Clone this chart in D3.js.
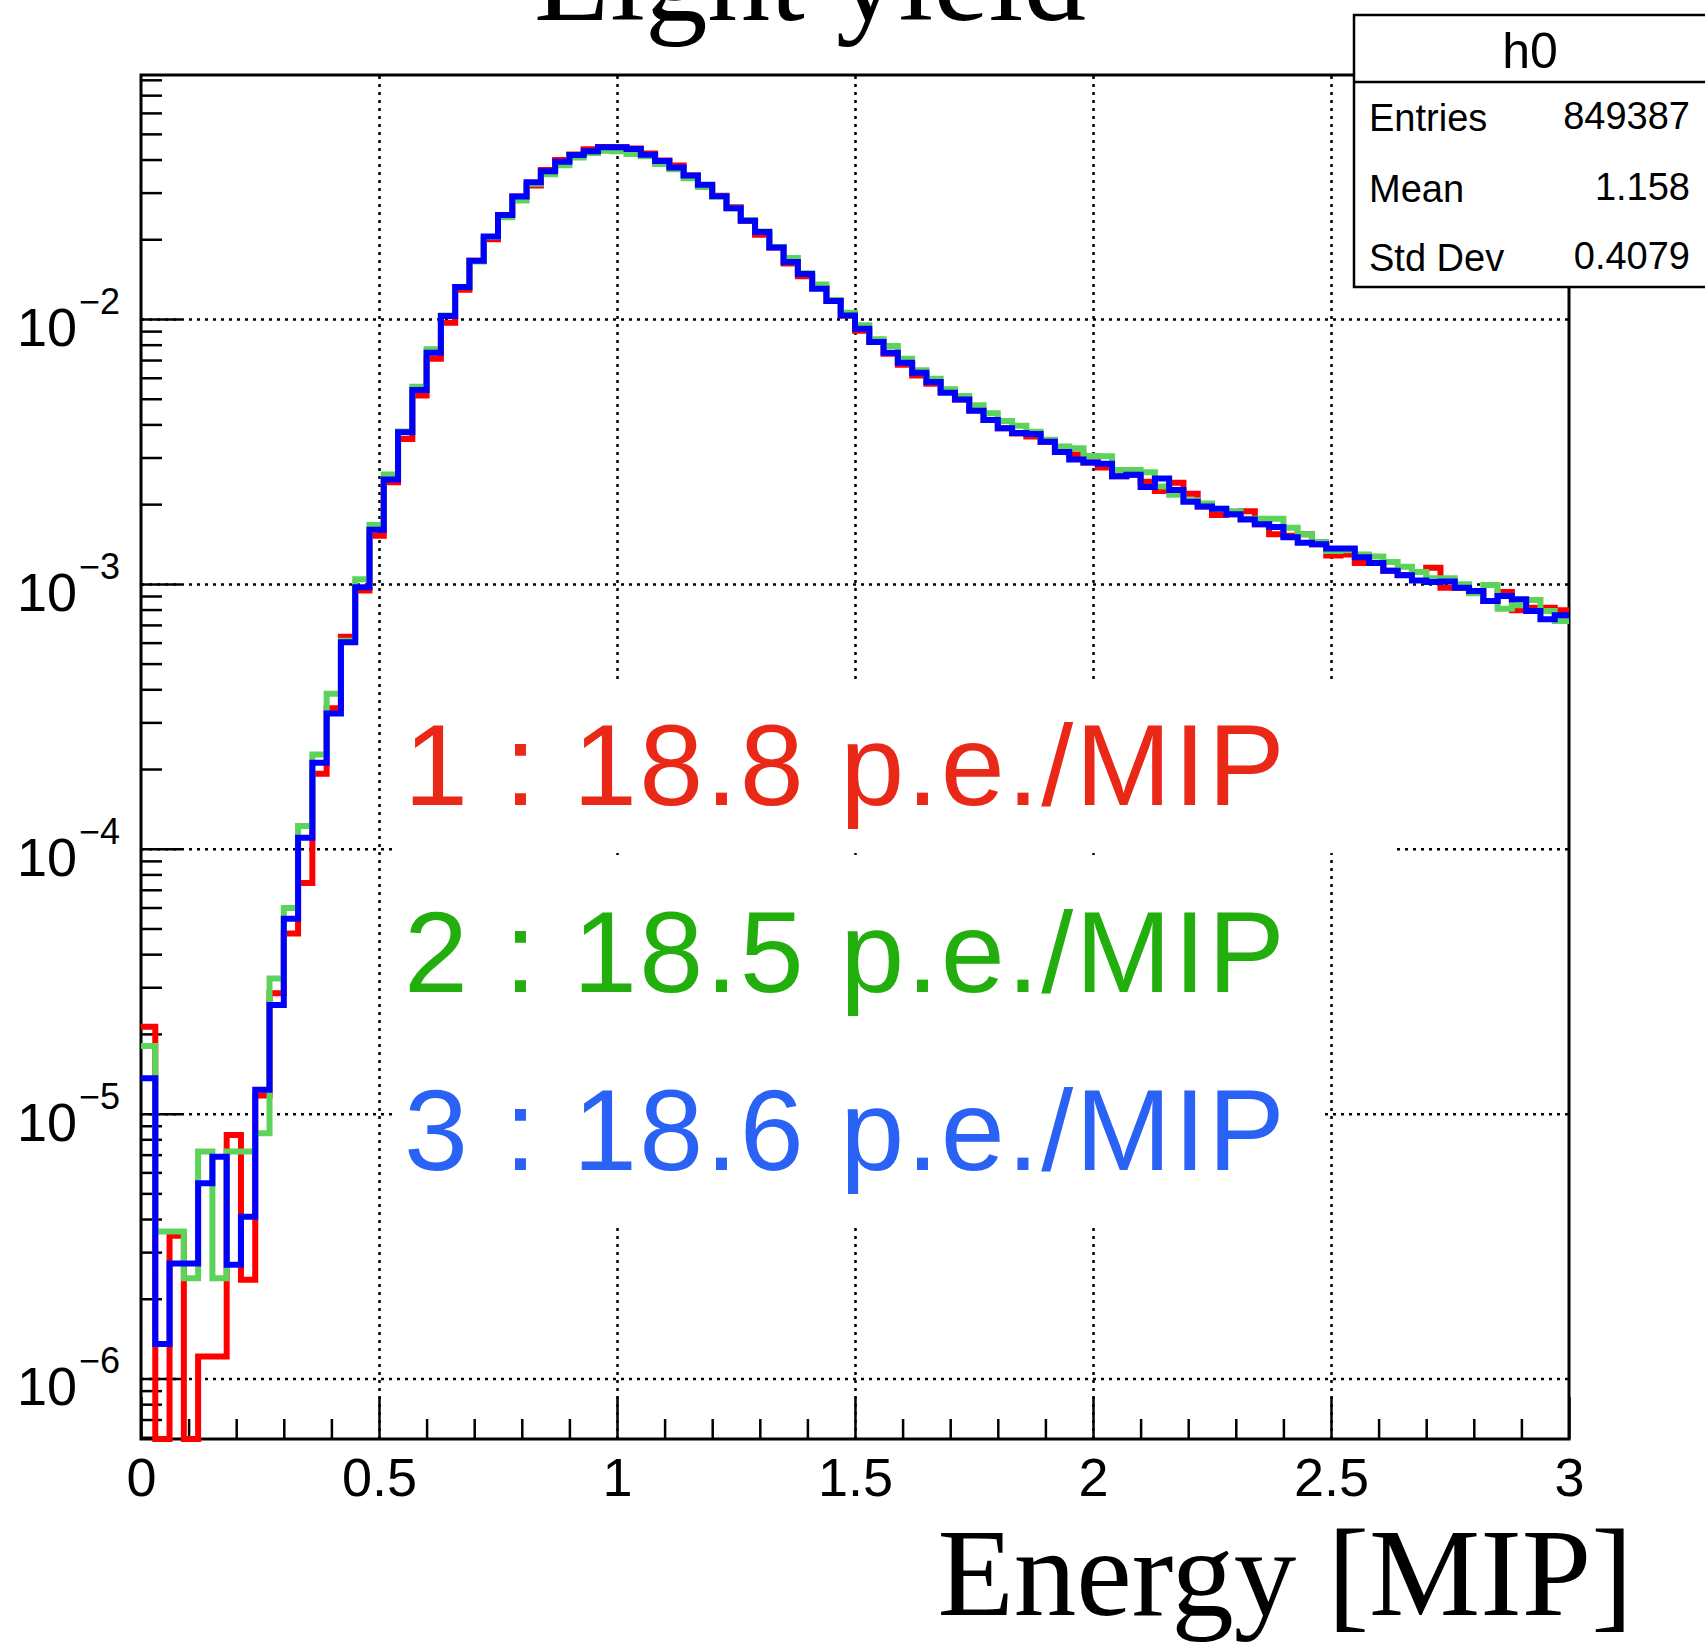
<!DOCTYPE html>
<html>
<head>
<meta charset="utf-8">
<script src="https://cdn.jsdelivr.net/npm/d3@7"></script>
<style>
  html, body { margin: 0; padding: 0; background: #fff; }
  svg { display: block; }
</style>
</head>
<body>
<div id="chart"></div>
<script>
// histogram binning: 100 bins on [0, 3]
const binRange = [0, 3];
const nBins = 100;

// bin contents (normalised counts), one value per bin
const series1 = [ // red
  2.13e-5, 0, 3.46e-6, 0, 1.21e-6, 1.21e-6, 8.31e-6, 2.36e-6, 1.17e-5, 2.85e-5,
  4.79e-5, 7.43e-5, 1.92e-4, 3.39e-4, 6.31e-4, 9.44e-4, 1.52e-3, 2.42e-3, 3.52e-3, 5.14e-3,
  7.08e-3, 9.68e-3, 1.29e-2, 1.66e-2, 2.00e-2, 2.47e-2, 2.90e-2, 3.19e-2, 3.65e-2, 3.98e-2,
  4.18e-2, 4.37e-2, 4.46e-2, 4.45e-2, 4.40e-2, 4.22e-2, 3.97e-2, 3.80e-2, 3.48e-2, 3.20e-2,
  2.92e-2, 2.64e-2, 2.35e-2, 2.08e-2, 1.86e-2, 1.62e-2, 1.45e-2, 1.31e-2, 1.17e-2, 1.03e-2,
  9.03e-3, 8.19e-3, 7.40e-3, 6.72e-3, 6.12e-3, 5.69e-3, 5.30e-3, 4.97e-3, 4.52e-3, 4.16e-3,
  3.87e-3, 3.70e-3, 3.60e-3, 3.44e-3, 3.15e-3, 3.08e-3, 2.87e-3, 2.75e-3, 2.55e-3, 2.58e-3,
  2.43e-3, 2.24e-3, 2.41e-3, 2.19e-3, 1.96e-3, 1.82e-3, 1.83e-3, 1.88e-3, 1.68e-3, 1.54e-3,
  1.52e-3, 1.54e-3, 1.41e-3, 1.28e-3, 1.29e-3, 1.20e-3, 1.20e-3, 1.12e-3, 1.08e-3, 1.11e-3,
  1.15e-3, 9.67e-4, 9.67e-4, 9.40e-4, 8.62e-4, 9.32e-4, 7.96e-4, 8.13e-4, 8.13e-4, 7.95e-4
];
const series2 = [ // green
  1.80e-5, 3.59e-6, 3.59e-6, 2.39e-6, 7.19e-6, 2.39e-6, 7.19e-6, 7.19e-6, 8.43e-6, 3.24e-5,
  5.97e-5, 1.22e-4, 2.27e-4, 3.85e-4, 6.10e-4, 1.04e-3, 1.67e-3, 2.59e-3, 3.76e-3, 5.55e-3,
  7.68e-3, 1.03e-2, 1.32e-2, 1.65e-2, 2.04e-2, 2.42e-2, 2.80e-2, 3.24e-2, 3.52e-2, 3.81e-2,
  4.07e-2, 4.23e-2, 4.32e-2, 4.30e-2, 4.20e-2, 4.12e-2, 3.85e-2, 3.68e-2, 3.40e-2, 3.15e-2,
  2.90e-2, 2.62e-2, 2.36e-2, 2.14e-2, 1.87e-2, 1.70e-2, 1.49e-2, 1.35e-2, 1.18e-2, 1.056e-2,
  9.47e-3, 8.38e-3, 7.91e-3, 7.08e-3, 6.40e-3, 5.95e-3, 5.43e-3, 5.12e-3, 4.72e-3, 4.41e-3,
  4.12e-3, 3.95e-3, 3.75e-3, 3.50e-3, 3.30e-3, 3.25e-3, 3.04e-3, 3.03e-3, 2.69e-3, 2.69e-3,
  2.64e-3, 2.33e-3, 2.17e-3, 2.07e-3, 2.01e-3, 1.92e-3, 1.88e-3, 1.76e-3, 1.76e-3, 1.76e-3,
  1.63e-3, 1.54e-3, 1.44e-3, 1.33e-3, 1.34e-3, 1.29e-3, 1.27e-3, 1.21e-3, 1.16e-3, 1.11e-3,
  1.05e-3, 1.05e-3, 9.97e-4, 9.22e-4, 9.91e-4, 8.06e-4, 8.30e-4, 8.69e-4, 7.90e-4, 7.24e-4
];
const series3 = [ // blue
  1.36e-5, 1.35e-6, 2.72e-6, 2.72e-6, 5.46e-6, 6.88e-6, 2.69e-6, 4.08e-6, 1.23e-5, 2.57e-5,
  5.44e-5, 1.10e-4, 2.11e-4, 3.24e-4, 6.02e-4, 9.72e-4, 1.60e-3, 2.48e-3, 3.74e-3, 5.40e-3,
  7.46e-3, 1.026e-2, 1.32e-2, 1.66e-2, 2.05e-2, 2.47e-2, 2.90e-2, 3.28e-2, 3.61e-2, 3.92e-2,
  4.16e-2, 4.30e-2, 4.45e-2, 4.45e-2, 4.38e-2, 4.17e-2, 3.95e-2, 3.73e-2, 3.48e-2, 3.21e-2,
  2.91e-2, 2.62e-2, 2.35e-2, 2.13e-2, 1.86e-2, 1.64e-2, 1.48e-2, 1.30e-2, 1.17e-2, 1.03e-2,
  9.19e-3, 8.19e-3, 7.46e-3, 6.84e-3, 6.27e-3, 5.78e-3, 5.27e-3, 4.97e-3, 4.50e-3, 4.16e-3,
  3.87e-3, 3.71e-3, 3.68e-3, 3.44e-3, 3.15e-3, 2.95e-3, 2.87e-3, 2.84e-3, 2.55e-3, 2.58e-3,
  2.32e-3, 2.50e-3, 2.26e-3, 2.04e-3, 1.96e-3, 1.92e-3, 1.83e-3, 1.75e-3, 1.68e-3, 1.64e-3,
  1.50e-3, 1.43e-3, 1.41e-3, 1.36e-3, 1.36e-3, 1.26e-3, 1.20e-3, 1.12e-3, 1.078e-3, 1.03e-3,
  1.016e-3, 1.02e-3, 9.67e-4, 9.40e-4, 8.62e-4, 9.00e-4, 8.75e-4, 7.90e-4, 7.35e-4, 7.61e-4
];

const xTickValues = [0, 0.5, 1, 1.5, 2, 2.5, 3];
const xTickLabels = ['0', '0.5', '1', '1.5', '2', '2.5', '3'];
const yDecadeExponents = [-2, -3, -4, -5, -6];
const legendLabels = ['1 : 18.8 p.e./MIP', '2 : 18.5 p.e./MIP', '3 : 18.6 p.e./MIP'];
const statsTitle = 'h0';
const statsNames = ['Entries', 'Mean', 'Std Dev'];
const statsValues = ['849387', '1.158', '0.4079'];
const titleText = 'Light yield';
const xAxisTitle = 'Energy [MIP]';

const cfg = {
  width: 1705,
  height: 1642,
  frame: { left: 141, right: 1569, top: 75, bottom: 1439 },
  yDomain: [5.91e-7, 0.08341],
  histColors: ['#ff0000', '#5cd35a', '#0000ff'],
  textColors: ['#ea2817', '#22ae0c', '#2a62f6'],
  histWidth: 6,
  sans: '"Liberation Sans", Arial, Helvetica, sans-serif',
  serif: '"Liberation Serif", "Times New Roman", serif'
};

const svg = d3.select('#chart')
  .append('svg')
  .attr('width', cfg.width)
  .attr('height', cfg.height)
  .style('background', '#fff');

const f = cfg.frame;
const x = d3.scaleLinear().domain(binRange).range([f.left, f.right]);
const y = d3.scaleLog().domain(cfg.yDomain).range([f.bottom, f.top]).clamp(true);

// grid (dotted, major ticks only)
svg.append('g')
  .attr('transform', `translate(0,${f.bottom})`)
  .call(d3.axisBottom(x).tickValues(xTickValues.slice(1, -1)).tickSize(-(f.bottom - f.top)).tickFormat(''))
  .call(g => g.select('.domain').remove())
  .call(g => g.selectAll('line').attr('stroke', '#000').attr('stroke-width', 2.5).attr('stroke-dasharray', '3,5'));

svg.append('g')
  .attr('transform', `translate(${f.left},0)`)
  .call(d3.axisLeft(y).tickValues(yDecadeExponents.map(e => Math.pow(10, e))).tickSize(-(f.right - f.left)).tickFormat(''))
  .call(g => g.select('.domain').remove())
  .call(g => g.selectAll('line').attr('stroke', '#000').attr('stroke-width', 2.5).attr('stroke-dasharray', '3,5'));

// white boxes behind the annotation text
const boxes = [
  { x0: 395, x1: 1397, y0: 679, y1: 853 },
  { x0: 395, x1: 1321, y0: 860, y1: 1228 }
];
svg.selectAll('rect.textbox')
  .data(boxes)
  .enter()
  .append('rect')
  .attr('class', 'textbox')
  .attr('x', d => d.x0).attr('y', d => d.y0)
  .attr('width', d => d.x1 - d.x0).attr('height', d => d.y1 - d.y0)
  .attr('fill', '#fff');

// frame
svg.append('rect')
  .attr('x', f.left).attr('y', f.top)
  .attr('width', f.right - f.left).attr('height', f.bottom - f.top)
  .attr('fill', 'none').attr('stroke', '#000').attr('stroke-width', 3);

// x axis ticks (inward) and labels
const xMinor = d3.range(0, 31).map(i => i / 10).filter(v => Math.abs(v * 2 - Math.round(v * 2)) > 1e-6);
svg.append('g')
  .attr('transform', `translate(0,${f.bottom})`)
  .call(d3.axisBottom(x).tickValues(xMinor).tickSize(-20).tickFormat(''))
  .call(g => g.select('.domain').remove())
  .call(g => g.selectAll('line').attr('stroke', '#000').attr('stroke-width', 2.5));

svg.append('g')
  .attr('transform', `translate(0,${f.bottom})`)
  .call(d3.axisBottom(x).tickValues(xTickValues).tickSize(-42).tickSizeOuter(0).tickPadding(19)
    .tickFormat((d, i) => xTickLabels[i]))
  .call(g => g.select('.domain').remove())
  .call(g => g.selectAll('line').attr('stroke', '#000').attr('stroke-width', 2.5))
  .call(g => g.selectAll('text').attr('fill', '#000').style('font-family', cfg.sans).style('font-size', '54px'));

// y axis ticks (inward)
const yMinor = y.ticks().filter(v => Math.abs(Math.log10(v) - Math.round(Math.log10(v))) > 1e-6);
svg.append('g')
  .attr('transform', `translate(${f.left},0)`)
  .call(d3.axisLeft(y).tickValues(yMinor).tickSize(-21).tickFormat(''))
  .call(g => g.select('.domain').remove())
  .call(g => g.selectAll('line').attr('stroke', '#000').attr('stroke-width', 2.5));

svg.append('g')
  .attr('transform', `translate(${f.left},0)`)
  .call(d3.axisLeft(y).tickValues(yDecadeExponents.map(e => Math.pow(10, e))).tickSize(-40).tickFormat(''))
  .call(g => g.select('.domain').remove())
  .call(g => g.selectAll('line').attr('stroke', '#000').attr('stroke-width', 2.5));

// y labels 10^n
const yLab = svg.append('g').style('font-family', cfg.sans).attr('fill', '#000');
yDecadeExponents.forEach(e => {
  const yy = y(Math.pow(10, e));
  yLab.append('text').attr('x', 77).attr('y', yy + 27).attr('text-anchor', 'end')
    .style('font-size', '54px').text('10');
  yLab.append('text').attr('x', 79).attr('y', yy - 5).attr('text-anchor', 'start')
    .style('font-size', '36px').text('\u2212' + Math.abs(e));
});

// histograms
const binWidth = (binRange[1] - binRange[0]) / nBins;
const histLine = d3.line()
  .x(d => x(d[0]))
  .y(d => y(d[1] > 0 ? d[1] : cfg.yDomain[0]))
  .curve(d3.curveStepAfter);

[series1, series2, series3].forEach((vals, k) => {
  const pts = vals.map((v, i) => [binRange[0] + i * binWidth, v]);
  pts.push([binRange[1], vals[vals.length - 1]]);
  svg.append('path')
    .datum(pts)
    .attr('d', histLine)
    .attr('fill', 'none')
    .attr('stroke', cfg.histColors[k])
    .attr('stroke-width', cfg.histWidth)
    .attr('stroke-linejoin', 'miter');
});

// annotation text
const legendBaselines = [805, 992, 1170];
svg.selectAll('text.legend')
  .data(legendLabels)
  .enter()
  .append('text')
  .attr('class', 'legend')
  .attr('x', 404)
  .attr('y', (d, i) => legendBaselines[i])
  .attr('fill', (d, i) => cfg.textColors[i])
  .style('font-family', cfg.sans)
  .style('font-size', '115px')
  .style('letter-spacing', '2.3px')
  .text(d => d);

// stats box
const stats = svg.append('g');
stats.append('rect')
  .attr('x', 1354).attr('y', 15).attr('width', 400).attr('height', 272)
  .attr('fill', '#fff').attr('stroke', '#000').attr('stroke-width', 2.5);
stats.append('line')
  .attr('x1', 1354).attr('x2', 1754).attr('y1', 82).attr('y2', 82)
  .attr('stroke', '#000').attr('stroke-width', 2.5);
stats.append('text')
  .attr('x', 1530).attr('y', 68).attr('text-anchor', 'middle')
  .style('font-family', cfg.sans).style('font-size', '50px').text(statsTitle);
const rowBaselines = [130, 201, 270];
statsNames.forEach((name, i) => {
  stats.append('text').attr('x', 1369).attr('y', rowBaselines[i] + 1)
    .style('font-family', cfg.sans).style('font-size', '38px').text(name);
  stats.append('text').attr('x', 1690).attr('y', rowBaselines[i] - 1).attr('text-anchor', 'end')
    .style('font-family', cfg.sans).style('font-size', '38px').text(statsValues[i]);
});

// title and axis title
svg.append('text')
  .attr('x', 810).attr('y', 20).attr('text-anchor', 'middle')
  .style('font-family', cfg.serif).style('font-size', '125px')
  .text(titleText);

svg.append('text')
  .attr('x', 1633).attr('y', 1615).attr('text-anchor', 'end')
  .style('font-family', cfg.serif).style('font-size', '125px')
  .text(xAxisTitle);
</script>
</body>
</html>
